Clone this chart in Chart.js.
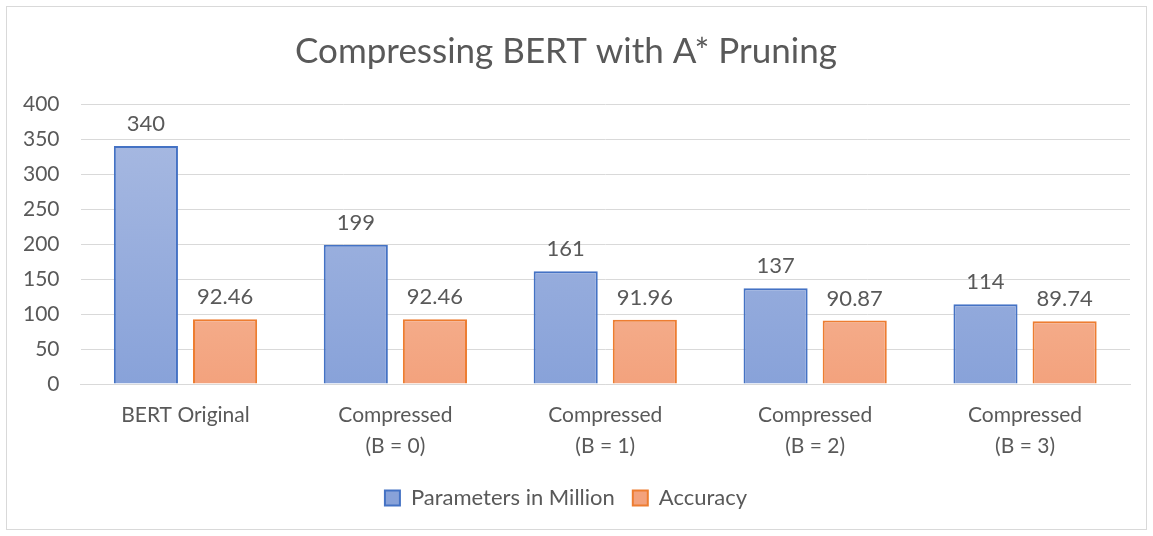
<!DOCTYPE html>
<html>
<head>
<meta charset="utf-8">
<script src="https://cdn.jsdelivr.net/npm/chart.js@4"></script>
<style>
  body { margin: 0; background: #fff; }
  #wrap { position: absolute; left: 6px; top: 6px; width: 1139px; height: 522px; border: 1px solid #d9d9d9; }
</style>
</head>
<body>
<div id="wrap"><canvas id="bertChart"></canvas></div>
<script>
const categories = [['BERT Original'], ['Compressed', '(B = 0)'], ['Compressed', '(B = 1)'], ['Compressed', '(B = 2)'], ['Compressed', '(B = 3)']];
const paramsMillion = [340, 199, 161, 137, 114];
const accuracy = [92.46, 92.46, 91.96, 90.87, 89.74];
const yTicks = [0, 50, 100, 150, 200, 250, 300, 350, 400];

const grey = '#595959';
const fontFamily = 'Lato, "Open Sans", sans-serif';

function gradient(top, bottom) {
  return function (ctx) {
    const area = ctx.chart.chartArea;
    if (!area) return bottom;
    const g = ctx.chart.ctx.createLinearGradient(0, area.top, 0, area.bottom);
    g.addColorStop(0, top);
    g.addColorStop(1, bottom);
    return g;
  };
}

// value labels above the bars
const valueLabels = {
  id: 'valueLabels',
  afterDatasetsDraw(chart) {
    const ctx = chart.ctx;
    ctx.save();
    ctx.font = '22px ' + fontFamily;
    ctx.fillStyle = grey;
    ctx.textAlign = 'center';
    ctx.textBaseline = 'bottom';
    chart.data.datasets.forEach((ds, i) => {
      chart.getDatasetMeta(i).data.forEach((bar, j) => {
        ctx.fillText(String(ds.data[j]), bar.x, bar.y - 11);
      });
    });
    ctx.restore();
  }
};

const ctx = document.getElementById('bertChart').getContext('2d');
new Chart(ctx, {
  type: 'bar',
  data: {
    labels: categories,
    datasets: [{
      label: 'Parameters in Million',
      data: paramsMillion,
      backgroundColor: gradient('#aabbe2', '#88a2d9'),
      borderColor: '#4472c4',
      borderWidth: 2,
      borderSkipped: 'bottom'
    }, {
      label: 'Accuracy',
      data: accuracy,
      backgroundColor: gradient('#f8c9b0', '#f3a27d'),
      borderColor: '#ed7d31',
      borderWidth: 2,
      borderSkipped: 'bottom'
    }]
  },
  options: {
    responsive: true,
    maintainAspectRatio: false,
    animation: false,
    categoryPercentage: 0.754,
    barPercentage: 0.81,
    layout: { padding: { left: -5, right: 16, top: 0, bottom: 10 } },
    plugins: {
      title: {
        display: true,
        text: 'Compressing BERT with A* Pruning',
        color: grey,
        font: { family: fontFamily, size: 35, weight: 'normal' },
        padding: { top: 24, bottom: 31 }
      },
      legend: {
        position: 'bottom',
        labels: {
          color: grey,
          font: { family: fontFamily, size: 22 },
          boxWidth: 15,
          boxHeight: 15,
          padding: 18
        }
      },
      tooltip: { enabled: false }
    },
    scales: {
      x: {
        grid: { display: false },
        border: { color: '#d9d9d9' },
        ticks: {
          color: grey,
          font: { family: fontFamily, size: 21, lineHeight: 1.45 },
          padding: 8
        }
      },
      y: {
        min: 0,
        max: 400,
        afterBuildTicks(axis) { axis.ticks = yTicks.map(v => ({ value: v })); },
        grid: { color: '#d9d9d9', drawTicks: false },
        border: { display: false },
        ticks: {
          color: grey,
          font: { family: fontFamily, size: 21 },
          padding: 21
        }
      }
    }
  },
  plugins: [valueLabels]
});
</script>
</body>
</html>
